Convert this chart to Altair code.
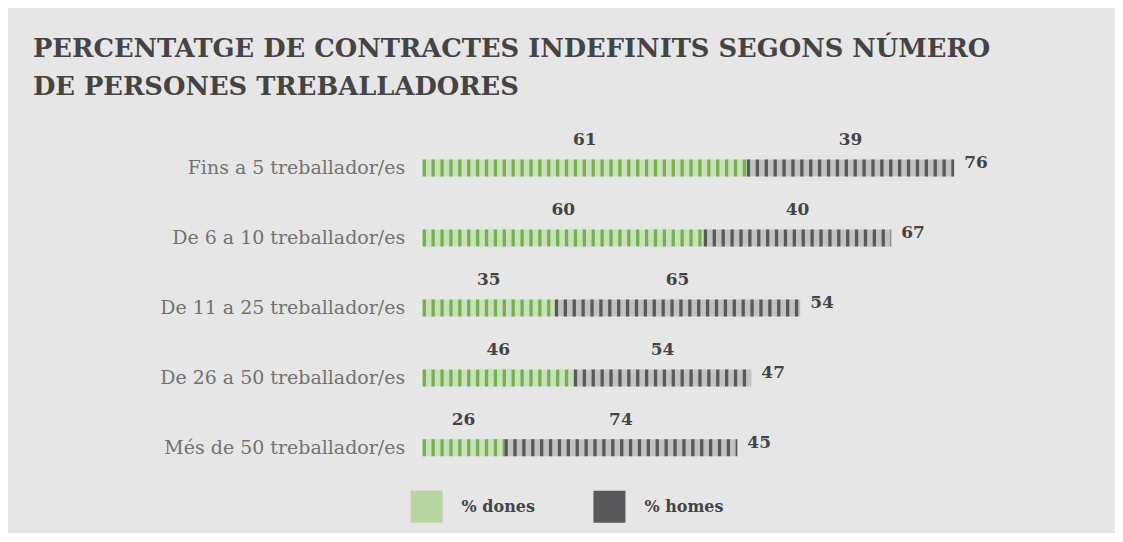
import altair as alt
import pandas as pd

categories = [
    "Fins a 5 treballador/es",
    "De 6 a 10 treballador/es",
    "De 11 a 25 treballador/es",
    "De 26 a 50 treballador/es",
    "Més de 50 treballador/es",
]
totals = [76, 67, 54, 47, 45]
pct_dones = [61, 60, 35, 46, 26]
pct_homes = [39, 40, 65, 54, 74]
series = ["% dones", "% homes"]

rows = []
for c, t, d, h in zip(categories, totals, pct_dones, pct_homes):
    split = t * d / 100.0
    rows.append({"cat": c, "serie": series[0], "start": 0.0, "end": split,
                 "mid": split / 2.0, "pct": d, "total": t})
    rows.append({"cat": c, "serie": series[1], "start": split, "end": float(t),
                 "mid": (split + t) / 2.0, "pct": h, "total": t})
df = pd.DataFrame(rows)
tot_df = pd.DataFrame({"cat": categories, "total": totals})

FONT = "DejaVu Serif"
TXT = "#444444"

xscale = alt.Scale(domain=[0, 90], nice=False, zero=True)
yenc = alt.Y(
    "cat:N", sort=categories,
    scale=alt.Scale(paddingInner=0, paddingOuter=0),
    axis=alt.Axis(title=None, domain=False, ticks=False, grid=False,
                  labelPadding=18, labelFont=FONT, labelFontSize=19,
                  labelColor="#727272", labelLimit=400,
                  minExtent=390, maxExtent=390),
)

base = alt.Chart(df)

under = base.mark_bar(size=17).encode(
    x=alt.X("start:Q", scale=xscale, axis=None),
    x2="end:Q",
    y=yenc,
    color=alt.Color("serie:N", scale=alt.Scale(domain=series, range=["#cadfbc", "#c2c2c2"]), legend=None),
)

stripes = base.mark_rule(strokeWidth=17, strokeDash=[3.3, 5.6], strokeCap="butt").encode(
    x=alt.X("start:Q", scale=xscale, axis=None),
    x2="end:Q",
    y=yenc,
    color=alt.Color("serie:N", scale=alt.Scale(domain=series, range=["#72b34c", "#58595b"]), legend=None),
)

legend_layer = base.mark_bar(size=17).encode(
    x=alt.X("start:Q", scale=xscale, axis=None),
    x2="start:Q",
    y=yenc,
    color=alt.Color(
        "serie:N",
        scale=alt.Scale(domain=series, range=["#b8d4a0", "#58595b"]),
        legend=alt.Legend(
            title=None, orient="none", direction="horizontal",
            legendX=-12, legendY=358, padding=0,
            symbolType="square", symbolSize=1024, symbolStrokeWidth=0,
            symbolOpacity=1, labelOffset=19, columnPadding=58,
            labelFont=FONT, labelFontSize=16, labelFontWeight="bold",
            labelColor=TXT,
        ),
    ),
)

seg_labels = base.mark_text(dy=-28, font=FONT, fontSize=17, fontWeight="bold",
                            color=TXT, align="center", baseline="middle").encode(
    x=alt.X("mid:Q", scale=xscale, axis=None),
    y=yenc,
    text=alt.Text("pct:Q"),
)

tot_labels = alt.Chart(tot_df).mark_text(dx=10, dy=-5, font=FONT, fontSize=17,
                                         fontWeight="bold", color=TXT,
                                         align="left", baseline="middle").encode(
    x=alt.X("total:Q", scale=xscale, axis=None),
    y=yenc,
    text=alt.Text("total:Q"),
)

chart = alt.layer(under, stripes, legend_layer, seg_labels, tot_labels).resolve_scale(
    color="independent"
).properties(
    width=630, height=350,
    background="#e6e6e6",
    padding={"left": 415, "top": 125, "right": 63, "bottom": 50},
    autosize=alt.AutoSizeParams(type="none"),
    title=alt.TitleParams(
        text=["PERCENTATGE DE CONTRACTES INDEFINITS SEGONS NÚMERO",
              "DE PERSONES TREBALLADORES"],
        anchor="start", frame="group", dx=-390, offset=30,
        font=FONT, fontSize=25.8, fontWeight="bold", color=TXT, lineHeight=38,
    ),
).configure_view(stroke=None)

chart.save("out.html", embed_options={"renderer": "svg", "actions": False})
